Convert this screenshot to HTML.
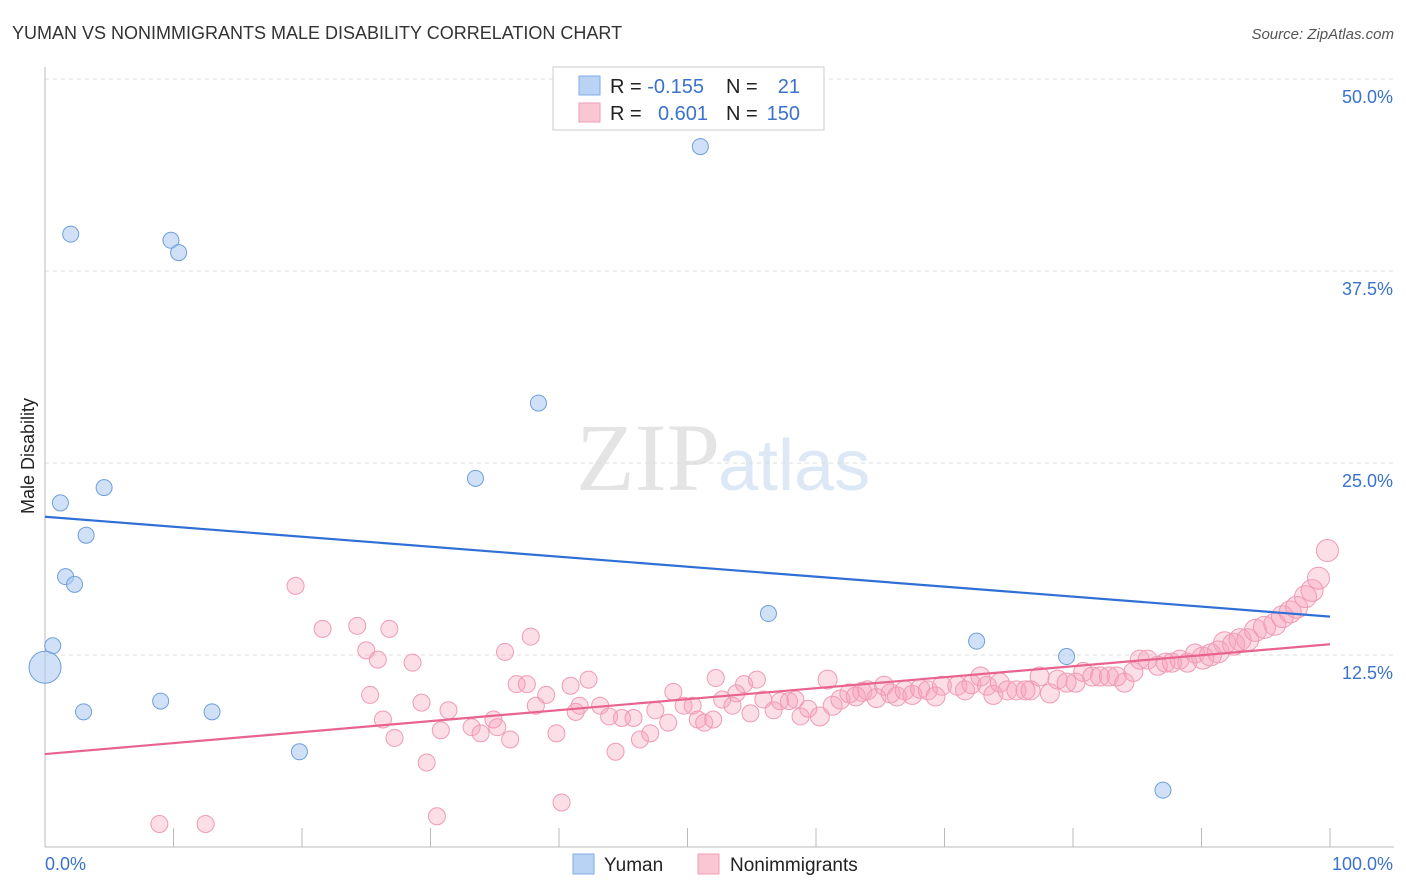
<!DOCTYPE html>
<html><head><meta charset="utf-8"><style>
body{margin:0;background:#fff;font-family:"Liberation Sans",sans-serif;}
svg{display:block}
</style></head><body>
<svg width="1406" height="892" xmlns="http://www.w3.org/2000/svg">
<text x="12" y="39" font-size="18" fill="#333">YUMAN VS NONIMMIGRANTS MALE DISABILITY CORRELATION CHART</text>
<text x="1394" y="39" font-size="15" fill="#555" font-style="italic" text-anchor="end">Source: ZipAtlas.com</text>
<text x="720" y="490" font-size="96" fill="#e4e4e4" text-anchor="end" font-family="Liberation Serif,serif">ZIP</text>
<text x="718" y="490" font-size="72" fill="#dce8f6">atlas</text>
<g id="grid"></g>
<g id="axes"></g>
<g id="marks"></g>
<text transform="translate(34,456) rotate(-90)" font-size="18" fill="#222" text-anchor="middle">Male Disability</text>
<g>
<rect x="553" y="67" width="271" height="63" fill="#fff" stroke="#ccc"/>
<rect x="579" y="76" width="21" height="19" fill="#b9d3f5" stroke="#7faee6"/>
<rect x="579" y="103" width="21" height="19" fill="#f9c6d4" stroke="#ee9db5"/>
<text x="610" y="93" font-size="20" fill="#222">R = <tspan fill="#3a72cc">-0.155</tspan></text>
<text x="726" y="93" font-size="20" fill="#222">N = </text><text x="800" y="93" font-size="20" fill="#3a72cc" text-anchor="end">21</text>
<text x="610" y="120" font-size="20" fill="#222">R = </text><text x="708" y="120" font-size="20" fill="#3a72cc" text-anchor="end">0.601</text>
<text x="726" y="120" font-size="20" fill="#222">N = </text><text x="800" y="120" font-size="20" fill="#3a72cc" text-anchor="end">150</text>
</g>
<g>
<rect x="573" y="854" width="21" height="20" fill="#b9d3f5" stroke="#7faee6"/>
<text x="604" y="871" font-size="19" fill="#222">Yuman</text>
<rect x="698" y="854" width="21" height="20" fill="#f9c6d4" stroke="#ee9db5"/>
<text x="730" y="871" font-size="19" fill="#222">Nonimmigrants</text>
</g>
</svg>
<script>
const yTicks=[12.5,25.0,37.5,50.0];
const xTickLabels=["0.0%","100.0%"];
const yumanX=[2,9.8,10.4,51,38.4,33.5,4.6,1.2,3.2,1.6,2.3,56.3,0.6,72.5,0,79.5,3,9,13,19.8,87];
const yumanY=[39.9,39.5,38.7,45.6,28.9,24,23.4,22.4,20.3,17.6,17.1,15.2,13.1,13.4,11.7,12.4,8.8,9.5,8.8,6.2,3.7];
const yumanR=[8,8,8,8,8,8,8,8,8,8,8,8,8,8,16,8,8,8,8,8,8];
const nonX=[8.9,12.5,19.5,21.6,24.3,26.8,25,25.9,28.6,25.3,26.3,27.2,29.7,30.5,29.3,31.4,30.8,33.2,33.9,34.9,35.2,36.2,35.8,37.8,36.7,37.5,38.2,39,39.8,40.2,40.9,41.3,42.3,41.6,43.2,43.9,44.4,44.9,45.8,46.3,47.1,47.5,48.5,48.9,49.7,50.4,50.8,51.3,52,52.2,52.7,53.5,53.8,54.4,54.9,55.4,55.9,56.7,57.2,57.9,58.4,58.8,59.4,60.3,60.9,61.3,61.9,62.6,63.1,63.6,64,64.7,65.3,65.8,66.3,66.9,67.5,68.1,68.7,69.3,69.8,71,71.6,72.1,72.8,73.3,73.8,74.3,74.9,75.6,76.3,76.7,77.4,78.2,78.8,79.5,80.2,80.8,81.5,82.1,82.8,83.4,84,84.7,85.2,85.8,86.6,87.2,87.7,88.3,88.9,89.5,90.1,90.7,91.3,91.8,92.5,93,93.6,94.2,94.9,95.7,96.3,96.9,97.4,98.1,98.6,99.1,99.8];
const nonY=[1.5,1.5,17,14.2,14.4,14.2,12.8,12.2,12,9.9,8.3,7.1,5.5,2,9.4,8.9,7.6,7.8,7.4,8.3,7.8,7,12.7,13.7,10.6,10.6,9.2,9.9,7.4,2.9,10.5,8.8,10.9,9.2,9.2,8.5,6.2,8.4,8.4,7,7.4,8.9,8.1,10.1,9.2,9.2,8.3,8.1,8.3,11,9.6,9.2,10,10.6,8.7,10.9,9.6,8.9,9.5,9.5,9.6,8.5,9,8.5,10.9,9.2,9.6,10,9.8,10.1,10.2,9.7,10.5,10,9.8,10.2,9.9,10.3,10.2,9.8,10.5,10.5,10.2,10.6,11.1,10.5,9.9,10.7,10.2,10.2,10.2,10.2,11.1,10,10.9,10.7,10.7,11.4,11.1,11.1,11.1,11.1,10.7,11.4,12.2,12.2,11.8,12,12,12.2,12,12.6,12.3,12.5,12.7,13.3,13.2,13.5,13.5,14.1,14.3,14.5,15,15.3,15.6,16.3,16.7,17.5,19.3];
const yumanTrend=[21.5,15.0];
const nonTrend=[6.05,13.2];

const NS="http://www.w3.org/2000/svg";
const X0=45,X1=1330,Y0=847,YT=79;
function sx(v){return X0+(X1-X0)*v/100;}
function sy(v){return Y0-(Y0-YT)*v/50;}
function mk(t,a,p){const e=document.createElementNS(NS,t);for(const k in a)e.setAttribute(k,a[k]);p.appendChild(e);return e;}
const grid=document.getElementById('grid'),axes=document.getElementById('axes'),marks=document.getElementById('marks');
yTicks.forEach(t=>{
 const l=mk('line',{x1:X0,x2:1394,y1:sy(t),y2:sy(t),stroke:'#ddd','stroke-dasharray':'4,4'},grid);
 
 
 const tx=mk('text',{x:1393,y:sy(t)+24,'font-size':18,fill:'#3a72cc','text-anchor':'end'},axes);
 tx.textContent=t.toFixed(1)+'%';
 
 
});
const ax=mk('line',{x1:X0,x2:1394,y1:Y0,y2:Y0,stroke:'#bbb'},axes);


const ay=mk('line',{x1:X0,x2:X0,y1:67,y2:Y0,stroke:'#bbb'},axes);


for(let i=0;i<=10;i++){
 const t=mk('line',{x1:sx(i*10),x2:sx(i*10),y1:828,y2:Y0,stroke:'#bbb'},axes);
 
 
}
const xl0=mk('text',{x:45,y:870,'font-size':18,fill:'#3a72cc'},axes);xl0.textContent=xTickLabels[0];


const xl1=mk('text',{x:1393,y:870,'font-size':18,fill:'#3a72cc','text-anchor':'end'},axes);xl1.textContent=xTickLabels[1];


nonX.forEach((x,i)=>{
 const r=x>90?11:(x>60?9.5:8.5);
 const c=mk('circle',{cx:sx(x),cy:sy(nonY[i]),r:r,fill:'rgba(245,160,185,0.35)',stroke:'#f09ab5','stroke-width':1},marks);
 
 
});
yumanX.forEach((x,i)=>{
 const c=mk('circle',{cx:sx(x),cy:sy(yumanY[i]),r:yumanR[i],fill:'rgba(170,200,240,0.55)',stroke:'#6d9fdc','stroke-width':1},marks);
 
 
});
const t1=mk('line',{x1:sx(0),x2:sx(100),y1:sy(yumanTrend[0]),y2:sy(yumanTrend[1]),stroke:'#2f6fd6','stroke-width':2.2},marks);


const t2=mk('line',{x1:sx(0),x2:sx(100),y1:sy(nonTrend[0]),y2:sy(nonTrend[1]),stroke:'#e8648f','stroke-width':2.2},marks);


</script>
</body></html>
